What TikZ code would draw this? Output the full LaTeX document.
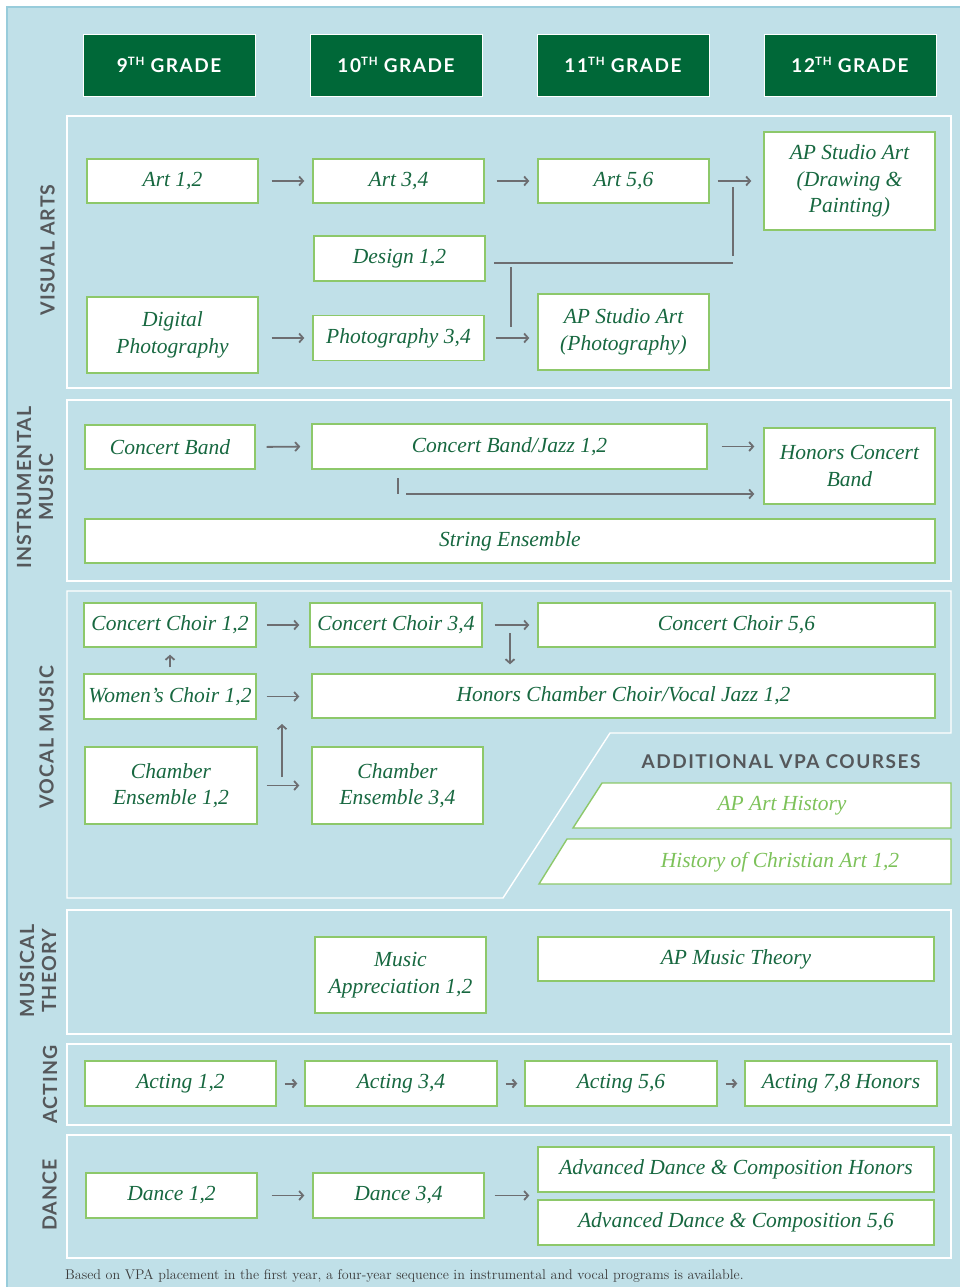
\documentclass[tikz,border=0pt]{standalone}
\usepackage{fontspec}
\usetikzlibrary{arrows.meta}
\newfontfamily\labelfont[LetterSpace=8]{Lato}
\newfontfamily\sectfont[LetterSpace=6]{Lato}
\newfontfamily\coursefont{Liberation Serif}
\definecolor{bg}{HTML}{C0E0E8}
\definecolor{bgborder}{HTML}{98CCDB}
\definecolor{headgreen}{HTML}{006838}
\definecolor{boxgreen}{HTML}{8DC86A}
\definecolor{textgreen}{HTML}{176840}
\definecolor{lightgreen}{HTML}{7DC25A}
\definecolor{arrowgray}{HTML}{6D6E71}
\definecolor{labelgray}{HTML}{55585B}
\definecolor{footgray}{HTML}{3C3C3C}
\newcommand\supTH{\raisebox{6.5pt}{\fontsize{11.5}{11.5}\selectfont TH}}
\begin{document}
\begin{tikzpicture}[x=1pt,y=-1pt,
  box/.style={draw=boxgreen, line width=1.4pt, fill=white, text=textgreen,
    font=\coursefont\fontsize{21.5}{26.5}\selectfont\itshape, align=center, inner sep=0pt},
  pbox/.style={text=lightgreen, font=\coursefont\fontsize{21.5}{26}\selectfont\itshape, inner sep=0pt},
  grade/.style={draw=white, line width=0.8pt, fill=headgreen, text=white,
    font=\labelfont\bfseries\fontsize{19}{19}\selectfont, minimum width=172pt, minimum height=62pt},
  panel/.style={draw=white, line width=1.4pt, fill=bg},
  sect/.style={rotate=90, text=labelgray, font=\sectfont\bfseries\fontsize{19.5}{22}\selectfont,
    align=center, inner sep=0pt},
  ln/.style={draw=arrowgray, line width=1.8pt},
  arr/.style={ln, -{Straight Barb[length=4pt,width=9pt]}, shorten <=12pt, shorten >=8pt},
  sarr/.style={draw=arrowgray, line width=2pt, -{Straight Barb[length=3.5pt,width=8pt]},
    shorten <=8pt, shorten >=7pt},
]
\useasboundingbox (0,0) rectangle (959,1287);
\fill[white] (0,0) rectangle (959,1287);
\fill[bg] (6,6) rectangle (965,1295);
\draw[bgborder, line width=2pt] (7,1295) -- (7,7) -- (965,7);

% grade headers
\node[grade] (g9)  at (169,65) {9\supTH{} GRADE};
\node[grade] (g10) at (396,65) {10\supTH{} GRADE};
\node[grade] (g11) at (623,65) {11\supTH{} GRADE};
\node[grade] (g12) at (850,65) {12\supTH{} GRADE};

% panels
\draw[panel] (67,116) rectangle (951,388);
\draw[panel] (67,400) rectangle (951,581);
\draw[panel] (67,591) -- (951,591) -- (951,733) -- (610,733) -- (503,898) -- (67,898) -- cycle;
\draw[panel] (67,910) rectangle (951,1034);
\draw[panel] (67,1044) rectangle (951,1125);
\draw[panel] (67,1135) rectangle (951,1258);

% section labels
\node[sect] (lva) at (47.5,250) {VISUAL ARTS};
\node[sect] (lim) at (35,487.5) {INSTRUMENTAL\\MUSIC};
\node[sect] (lvm) at (46.5,737) {VOCAL MUSIC};
\node[sect] (lmt) at (38,971) {MUSICAL\\THEORY};
\node[sect] (lac) at (50,1084.5) {ACTING};
\node[sect] (lda) at (49.5,1195) {DANCE};

% visual arts
\node[box, minimum width=171pt, minimum height=44pt] (a12) at (172.5,181) {Art 1,2};
\node[box, minimum width=171pt, minimum height=44pt] (a34) at (398.5,181) {Art 3,4};
\node[box, minimum width=171pt, minimum height=44pt] (a56) at (623.5,181) {Art 5,6};
\node[box, minimum width=171pt, minimum height=98pt] (apd) at (849.5,181) {AP Studio Art\\(Drawing \&\\Painting)};
\node[box, minimum width=171pt, minimum height=45pt] (des) at (399.5,258.5) {Design 1,2};
\node[box, minimum width=171pt, minimum height=76pt] (dph) at (172.5,335) {Digital\\Photography};
\node[box, minimum width=171pt, minimum height=45pt] (ph34) at (398.5,338) {Photography 3,4};
\node[box, minimum width=171pt, minimum height=76pt] (app) at (623.5,332) {AP Studio Art\\(Photography)};

\draw[arr, shorten <=13pt] (a12.east) -- (a34.west);
\draw[arr] (a34.east) -- (a56.west);
\draw[arr, shorten <=8pt, shorten >=12pt] (a56.east) -- (apd.west);
\coordinate (v1) at (733,187);
\coordinate (v2) at (733,256);
\coordinate (h1) at (494,263);
\coordinate (h2) at (733,263);
\coordinate (w1) at (511,267);
\coordinate (w2) at (511,327);
\draw[ln] (v1) -- (v2);
\draw[ln] (h1) -- (h2);
\draw[ln] (w1) -- (w2);
\draw[arr, shorten <=13pt] (ph34.west -| dph.east) -- (ph34.west);
\draw[arr, shorten <=11pt] (ph34.east) -- (ph34.east -| app.west);

% instrumental music
\node[box, minimum width=170pt, minimum height=44pt] (cb) at (170,447) {Concert Band};
\node[box, minimum width=395pt, minimum height=45pt] (cbj) at (509.5,446.5) {Concert Band/Jazz 1,2};
\node[box, minimum width=171pt, minimum height=76pt] (hcb) at (849.5,466) {Honors Concert\\Band};
\node[box, minimum width=850pt, minimum height=44pt] (se) at (510,541) {String Ensemble};
\draw[arr, shorten <=11pt, shorten >=11pt] (cb.east) -- (cbj.west);
\draw[arr, shorten <=14pt, shorten >=9pt] (cbj.east) -- (cbj.east -| hcb.west);
\coordinate (t1) at (398,478);
\coordinate (t2) at (398,494);
\coordinate (t3) at (406,494);
\draw[ln] (t1) -- (t2);
\draw[arr, shorten <=0pt, shorten >=9pt] (t3) -- (t3 -| hcb.west);

% vocal music
\node[box, minimum width=172pt, minimum height=44pt] (cc12) at (170,625) {Concert Choir 1,2};
\node[box, minimum width=172pt, minimum height=44pt] (cc34) at (396,625) {Concert Choir 3,4};
\node[box, minimum width=397pt, minimum height=44pt] (cc56) at (736.5,625) {Concert Choir 5,6};
\node[box, minimum width=172pt, minimum height=45pt] (wc) at (170,696.5) {Women’s Choir 1,2};
\node[box, minimum width=623pt, minimum height=44pt] (hcc) at (623.5,696) {Honors Chamber Choir/Vocal Jazz 1,2};
\node[box, minimum width=172pt, minimum height=77pt] (ce12) at (171,785.5) {Chamber\\Ensemble 1,2};
\node[box, minimum width=171pt, minimum height=77pt] (ce34) at (397.5,785.5) {Chamber\\Ensemble 3,4};
\draw[arr, shorten <=10pt, shorten >=10pt] (cc12.east) -- (cc34.west);
\draw[arr] (cc34.east) -- (cc56.west);
\coordinate (dv) at (510,625);
\draw[arr, shorten <=8pt, shorten >=9pt] (dv) -- (dv |- hcc.north);
\draw[arr, shorten <=6pt, shorten >=7pt] (wc.north) -- (cc12.south);
\draw[arr, shorten <=10pt, shorten >=12pt] (wc.east) -- (wc.east -| hcc.west);
\draw[arr, shorten <=9pt, shorten >=12pt] (ce12.east) -- (ce34.west);
\coordinate (u1) at (282,777);
\coordinate (u2) at (282,724);
\draw[arr, shorten <=0pt, shorten >=0pt] (u1) -- (u2);

% additional VPA courses
\node[text=labelgray, font=\labelfont\bfseries\fontsize{19}{19}\selectfont, inner sep=0pt] (addh) at (781,762) {ADDITIONAL VPA COURSES};
\draw[draw=boxgreen, line width=1.4pt, fill=white] (602,783) -- (951,783) -- (951,828) -- (573,828) -- cycle;
\node[pbox] (aph) at (782,806) {AP Art History};
\draw[draw=boxgreen, line width=1.4pt, fill=white] (567,839) -- (951,839) -- (951,884) -- (539,884) -- cycle;
\node[pbox] (hca) at (780,862) {History of Christian Art 1,2};

% musical theory
\node[box, minimum width=171pt, minimum height=76pt] (ma) at (400.5,975) {Music\\Appreciation 1,2};
\node[box, minimum width=396pt, minimum height=44pt] (apmt) at (736,959) {AP Music Theory};

% acting
\node[box, minimum width=191pt, minimum height=45pt] (ac12) at (180.5,1083.5) {Acting 1,2};
\node[box, minimum width=192pt, minimum height=45pt] (ac34) at (401,1083.5) {Acting 3,4};
\node[box, minimum width=192pt, minimum height=45pt] (ac56) at (621,1083.5) {Acting 5,6};
\node[box, minimum width=192pt, minimum height=45pt] (ac78) at (841,1083.5) {Acting 7,8 Honors};
\draw[sarr] (ac12.east) -- (ac34.west);
\draw[sarr] (ac34.east) -- (ac56.west);
\draw[sarr] (ac56.east) -- (ac78.west);

% dance
\node[box, minimum width=171pt, minimum height=45pt] (d12) at (171.5,1195.5) {Dance 1,2};
\node[box, minimum width=171pt, minimum height=45pt] (d34) at (398.5,1195.5) {Dance 3,4};
\node[box, minimum width=396pt, minimum height=45pt] (adh) at (736,1169.5) {Advanced Dance \& Composition Honors};
\node[box, minimum width=396pt, minimum height=45pt] (ad56) at (736,1222.5) {Advanced Dance \& Composition 5,6};
\draw[arr, shorten <=14pt] (d12.east) -- (d34.west);
\draw[arr, shorten <=10pt] (d34.east) -- (d34.east -| adh.west);

% footer
\node[anchor=base west, text=footgray, font=\fontsize{14.1}{14}\selectfont, inner sep=0pt] (foot) at (65,1279)
  {Based on VPA placement in the first year, a four-year sequence in instrumental and vocal programs is available.};
\end{tikzpicture}
\end{document}
